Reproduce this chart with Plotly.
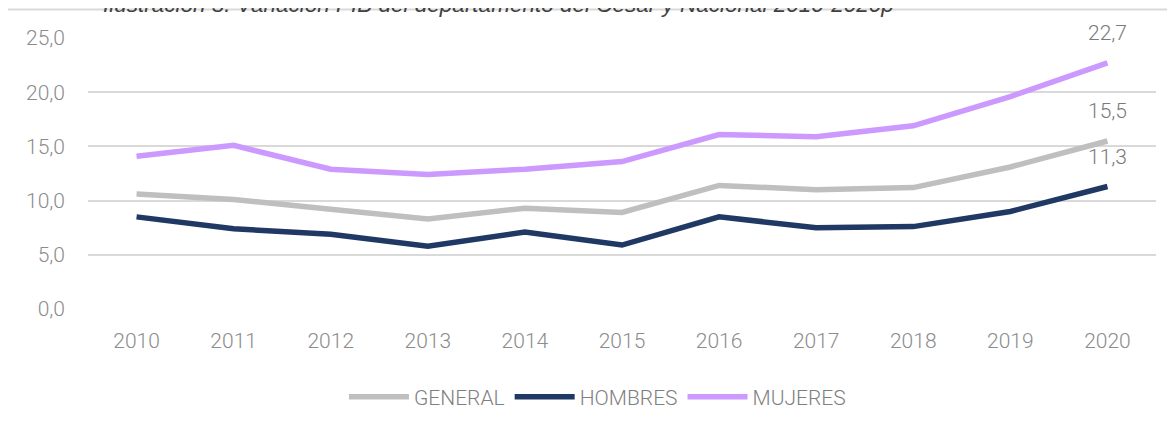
import plotly.graph_objects as go

years = ["2010", "2011", "2012", "2013", "2014", "2015", "2016", "2017", "2018", "2019", "2020"]
general = [10.6, 10.1, 9.2, 8.3, 9.3, 8.9, 11.4, 11.0, 11.2, 13.1, 15.5]
hombres = [8.5, 7.4, 6.9, 5.8, 7.1, 5.9, 8.5, 7.5, 7.6, 9.0, 11.3]
mujeres = [14.1, 15.1, 12.9, 12.4, 12.9, 13.6, 16.1, 15.9, 16.9, 19.6, 22.7]
y_ticks = [0, 5, 10, 15, 20, 25]
title_text = "Ilustración 5. Variación PIB del departamento del Cesar y Nacional 2010-2020p"

FONT = "Roboto"
TFONT = "Liberation Sans"
series = [
    ("GENERAL", general, "#bfbfbf"),
    ("HOMBRES", hombres, "#203864"),
    ("MUJERES", mujeres, "#cc99ff"),
]

fig = go.Figure()
for name, vals, col in series:
    fig.add_trace(go.Scatter(
        x=years, y=vals, name=name, mode="lines",
        line=dict(color=col, width=5.5),
        hoverinfo="skip",
    ))

W, H = 1167, 416
L, R, T, B = 80, 19, 30, 115
PH = H - T - B

last = len(years) - 1
annotations = []
for name, vals, col in series:
    annotations.append(dict(
        x=last, y=vals[-1], xref="x", yref="y",
        text=f"{vals[-1]:.1f}".replace(".", ","),
        showarrow=False, yshift=30,
        font=dict(family=FONT, size=21, color="#7a7a7a", weight=300),
    ))
annotations.append(dict(
    x=0.012, y=1 + (T - 11) / PH, xref="paper", yref="paper", xanchor="left", yanchor="bottom",
    text=title_text, showarrow=False,
    font=dict(family=TFONT, size=22.5, color="#404040", style="italic"),
))

fig.update_layout(
    width=W, height=H,
    margin=dict(l=L, r=R, t=T, b=B, autoexpand=False),
    paper_bgcolor="white", plot_bgcolor="white",
    separators=",.",
    showlegend=True,
    legend=dict(
        orientation="h", x=0.477, xanchor="center",
        yref="container", y=1 - 389 / H, yanchor="middle",
        font=dict(family=FONT, size=21, color="#7f7f7f", weight=300),
        itemwidth=60, tracegroupgap=0,
    ),
    annotations=annotations,
    shapes=[dict(
        type="rect", xref="paper", yref="paper",
        x0=(-1 - L) / 1068, x1=1.2, y0=-1.0, y1=1 + (T - 1.5) / PH,
        line=dict(color="#d9d9d9", width=2), fillcolor="rgba(0,0,0,0)", layer="below",
    )],
)
fig.update_xaxes(
    type="category", range=[-0.5, last + 0.5],
    showgrid=False, zeroline=False, showline=False, ticks="",
    tickfont=dict(family=FONT, size=21, color="#8c8c8c", weight=300),
    ticklabelstandoff=17,
)
fig.update_yaxes(
    range=[0, 25], tickvals=y_ticks, tickformat=".1f",
    showgrid=True, gridcolor="#d9d9d9", gridwidth=1.5, zeroline=False, showline=False, ticks="",
    tickfont=dict(family=FONT, size=21, color="#8c8c8c", weight=300),
    ticklabelstandoff=22,
)
fig.write_html("out.html")
